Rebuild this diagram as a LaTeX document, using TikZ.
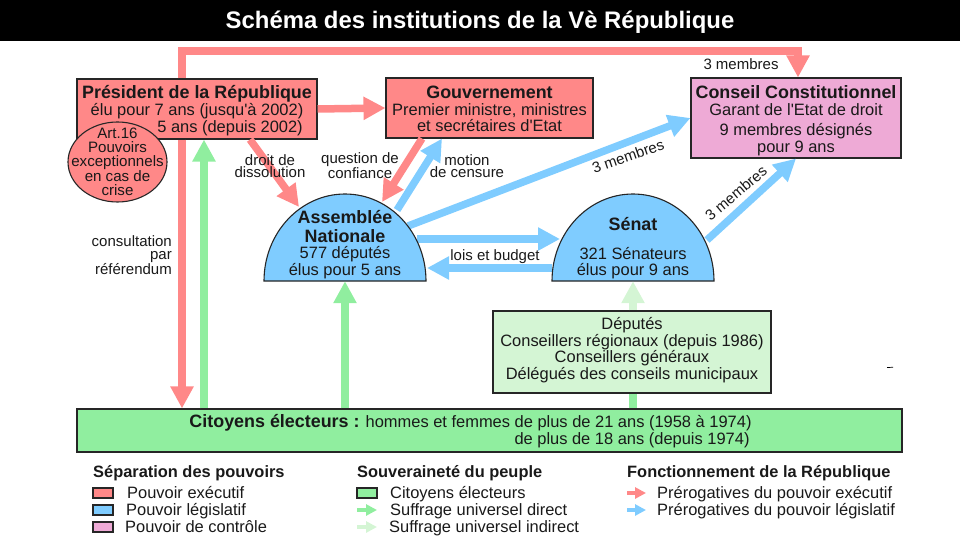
\documentclass[tikz,border=0pt]{standalone}
\usepackage{fontspec}
\defaultfontfeatures[\rmfamily]{}
\setmainfont{Liberation Sans}[Ligatures=TeXOff]
\usetikzlibrary{arrows.meta,positioning,shapes.geometric}
\definecolor{execred}{HTML}{FF8888}
\definecolor{legisblue}{HTML}{7FCCFF}
\definecolor{ctrlpink}{HTML}{EEAAD6}
\definecolor{citgreen}{HTML}{90EE9F}
\definecolor{indgreen}{HTML}{D4F5D4}
\newcommand\legendrow[3]{\node[legend text,anchor=base west]at(#1,#2){#3};}
\newcommand\headfont{\fontsize{17.9}{16.7}\selectfont\bfseries}
\begin{document}
\begin{tikzpicture}[x=1pt,y=-1pt,font=\fontsize{16.45}{16.7}\selectfont,text=black!90]
% Styles for boxes and arrows
\tikzstyle{institution}=[rectangle,draw=black!85,line width=1.1pt,inner sep=0]
\tikzstyle{box text}=[inner sep=0,align=center]
\tikzstyle{dome}=[draw=black!85,line width=1.1pt,fill=legisblue]
\tikzstyle{fat}=[line width=7.5pt,-{Triangle[width=22pt,length=22pt]}]
\tikzstyle{thin}=[line width=3.5pt,-{Triangle[width=11pt,length=11pt]}]
\tikzstyle{small label}=[inner sep=0,align=center,font=\fontsize{15}{12.5}\selectfont]
\tikzstyle{legend text}=[inner sep=0]
\tikzstyle{legend head}=[inner sep=0,anchor=base west,font=\bfseries\fontsize{16.4}{16}\selectfont]
\tikzstyle{legend swatch}=[draw=black!85,line width=1.1pt,minimum width=20pt,minimum height=10pt,inner sep=0]
\useasboundingbox (0,0) rectangle (960,540);
% Title
\fill[black] (0,0) rectangle (960,41);
\node (title) [text=white,font=\bfseries\fontsize{23.9}{26}\selectfont] at (480,22) {Schéma des institutions de la Vè République};
% Anchor points on the domes and on the red line
\coordinate (rv) at (182,51);
\coordinate (an dissol) at (299,207);
\coordinate (an conf) at (382,202);
\coordinate (an motion) at (397,210);
\coordinate (an cc) at (408,226);
\coordinate (an vote) at (417,239);
\coordinate (an lois) at (427,268);
\coordinate (se vote) at (560,239);
\coordinate (se lois) at (552,268);
\coordinate (se cc) at (707,240);
% Boxes
\node (pres) [institution,fill=execred,minimum width=240pt,minimum height=60pt] at (197,109) {};
\node (gouv) [institution,fill=execred,minimum width=207pt,minimum height=60pt] at (489.5,108) {};
\node (cc) [institution,fill=ctrlpink,minimum width=210pt,minimum height=80pt] at (796,118) {};
\node (indirect) [institution,fill=indgreen,minimum width=278pt,minimum height=82pt] at (632,352) {};
\node (citoyens) [institution,fill=citgreen,minimum width=825pt,minimum height=43pt] at (489.5,430.5) {};
% Arrows
\draw[fat,execred] (pres.south -| rv) -- (citoyens.north -| rv);
\draw[fat,execred] (pres.north -| rv) -- (rv) -| ([xshift=2pt]cc.north);
\draw[fat,execred] (pres.east) -- (gouv.west);
\draw[fat,execred] ([xshift=53pt]pres.south) -- (an dissol);
\draw[fat,execred] ([xshift=-67.5pt]gouv.south) -- (an conf);
\draw[fat,citgreen] (citoyens.north -| 204,0) -- (pres.south -| 204,0);
\draw[fat,legisblue] (an motion) -- ([xshift=-47.5pt]gouv.south);
\draw[fat,legisblue] (an cc) -- (cc.west);
\draw[fat,legisblue] (an vote) -- (se vote);
\draw[fat,legisblue] (se lois) -- (an lois);
\draw[fat,legisblue] (se cc) -- (cc.south);
% The domes
\draw[dome] (264,281) arc[start angle=180,end angle=360,x radius=81,y radius=87] -- cycle;
\draw[dome] (552,281) arc[start angle=180,end angle=360,x radius=81,y radius=87] -- cycle;
\node (an) [inner sep=0,minimum width=162pt,minimum height=87pt] at (345,237.5) {};
\node (senat) [inner sep=0,minimum width=162pt,minimum height=87pt] at (633,237.5) {};
\draw[fat,citgreen] (citoyens.north -| an.south) -- (an.south);
\draw[fat,indgreen] (indirect.north -| senat.south) -- (senat.south);
\draw[line width=7.5pt,citgreen] (citoyens.north -| senat.south) -- (indirect.south -| senat.south);
% Ellipse over the president box
\node (art) [ellipse,draw=black!85,line width=1.1pt,fill=execred,inner sep=0,minimum width=99pt,minimum height=80pt] at (117.5,162) {};
% Text of the boxes
\node (pres text) [box text] at (197,110.5) {{\headfont Président de la République}\\élu pour 7 ans (jusqu'à 2002)\\\hspace*{66pt}5 ans (depuis 2002)};
\node (gouv text) [box text] at (489.5,109) {{\headfont Gouvernement}\\Premier ministre, ministres\\et secrétaires d'Etat};
\node (cc text) [box text] at (796,120.5) {{\headfont Conseil Constitutionnel}\\[1pt]Garant de l'Etat de droit\\[3pt]9 membres désignés\\pour 9 ans};
\node (indirect text) [box text] at (632,350) {Députés\\Conseillers régionaux (depuis 1986)\\Conseillers généraux\\Délégués des conseils municipaux};
\node (an name) [box text,font=\bfseries\fontsize{17.9}{19}\selectfont] at (345,226.5) {Assemblée\\Nationale};
\node (an text) [box text] at (345,262.5) {577 députés\\élus pour 5 ans};
\node (senat name) [box text,font=\bfseries\fontsize{17.9}{19}\selectfont] at (633,224) {Sénat};
\node (senat text) [box text] at (633,263) {321 Sénateurs\\élus pour 9 ans};
\node (art text) [box text,font=\fontsize{15.1}{13.9}\selectfont] at (117.5,162) {Art.16\\Pouvoirs\\exceptionnels\\en cas de\\crise};
\node (citoyens text) [inner sep=0,align=right] at (470.5,431) {{\headfont Citoyens électeurs :} hommes et femmes de plus de 21 ans (1958 à 1974)\\de plus de 18 ans (depuis 1974)\hspace*{2pt}};
% Labels on arrows
\node (l dissol) [small label] at (270,166) {droit de\\dissolution};
\node (l conf) [small label] at (360,166) {question de\\confiance};
\node (l motion) [small label] at (467,166) {motion\\de censure};
\node (l ref) [small label,align=right,anchor=east] at (172,255) {consultation\\par\\référendum};
\node (l lois) [small label] at (495,257) {lois et budget};
\node (l top) [small label] at (741,64) {3 membres};
\node (l an) [small label,rotate=19] at (628,156) {3 membres};
\node (l se) [small label,rotate=40] at (736,193) {3 membres};
% Stray mark
\draw[black,line width=.7pt] (887,367.6) -- (893,367.2);
% Legend
\node (sep) [legend head] at (93,477) {Séparation des pouvoirs};
\node (sou) [legend head] at (357,477) {Souveraineté du peuple};
\node (fon) [legend head] at (627,477) {Fonctionnement de la République};
\node (k1) [legend swatch,fill=execred] at (103,493) {};
\node (k2) [legend swatch,fill=legisblue] at (103,510) {};
\node (k3) [legend swatch,fill=ctrlpink] at (103,527) {};
\node (k4) [legend swatch,fill=citgreen] at (367,493) {};
\legendrow{127}{498.5}{Pouvoir exécutif}
\legendrow{126}{515.5}{Pouvoir législatif}
\legendrow{125}{532.5}{Pouvoir de contrôle}
\legendrow{390}{498.5}{Citoyens électeurs}
\legendrow{390}{515.5}{Suffrage universel direct}
\legendrow{389}{532.5}{Suffrage universel indirect}
\legendrow{657}{498.5}{Prérogatives du pouvoir exécutif}
\legendrow{657}{515.5}{Prérogatives du pouvoir législatif}
\coordinate (a1) at (357,510);
\coordinate (b1) at (377,510);
\coordinate (a2) at (357,527);
\coordinate (b2) at (377,527);
\coordinate (a3) at (627,493);
\coordinate (b3) at (646,493);
\coordinate (a4) at (627,510);
\coordinate (b4) at (646,510);
\draw[thin,citgreen] (a1) -- (b1);
\draw[thin,indgreen] (a2) -- (b2);
\draw[thin,execred] (a3) -- (b3);
\draw[thin,legisblue] (a4) -- (b4);
\end{tikzpicture}
\end{document}
